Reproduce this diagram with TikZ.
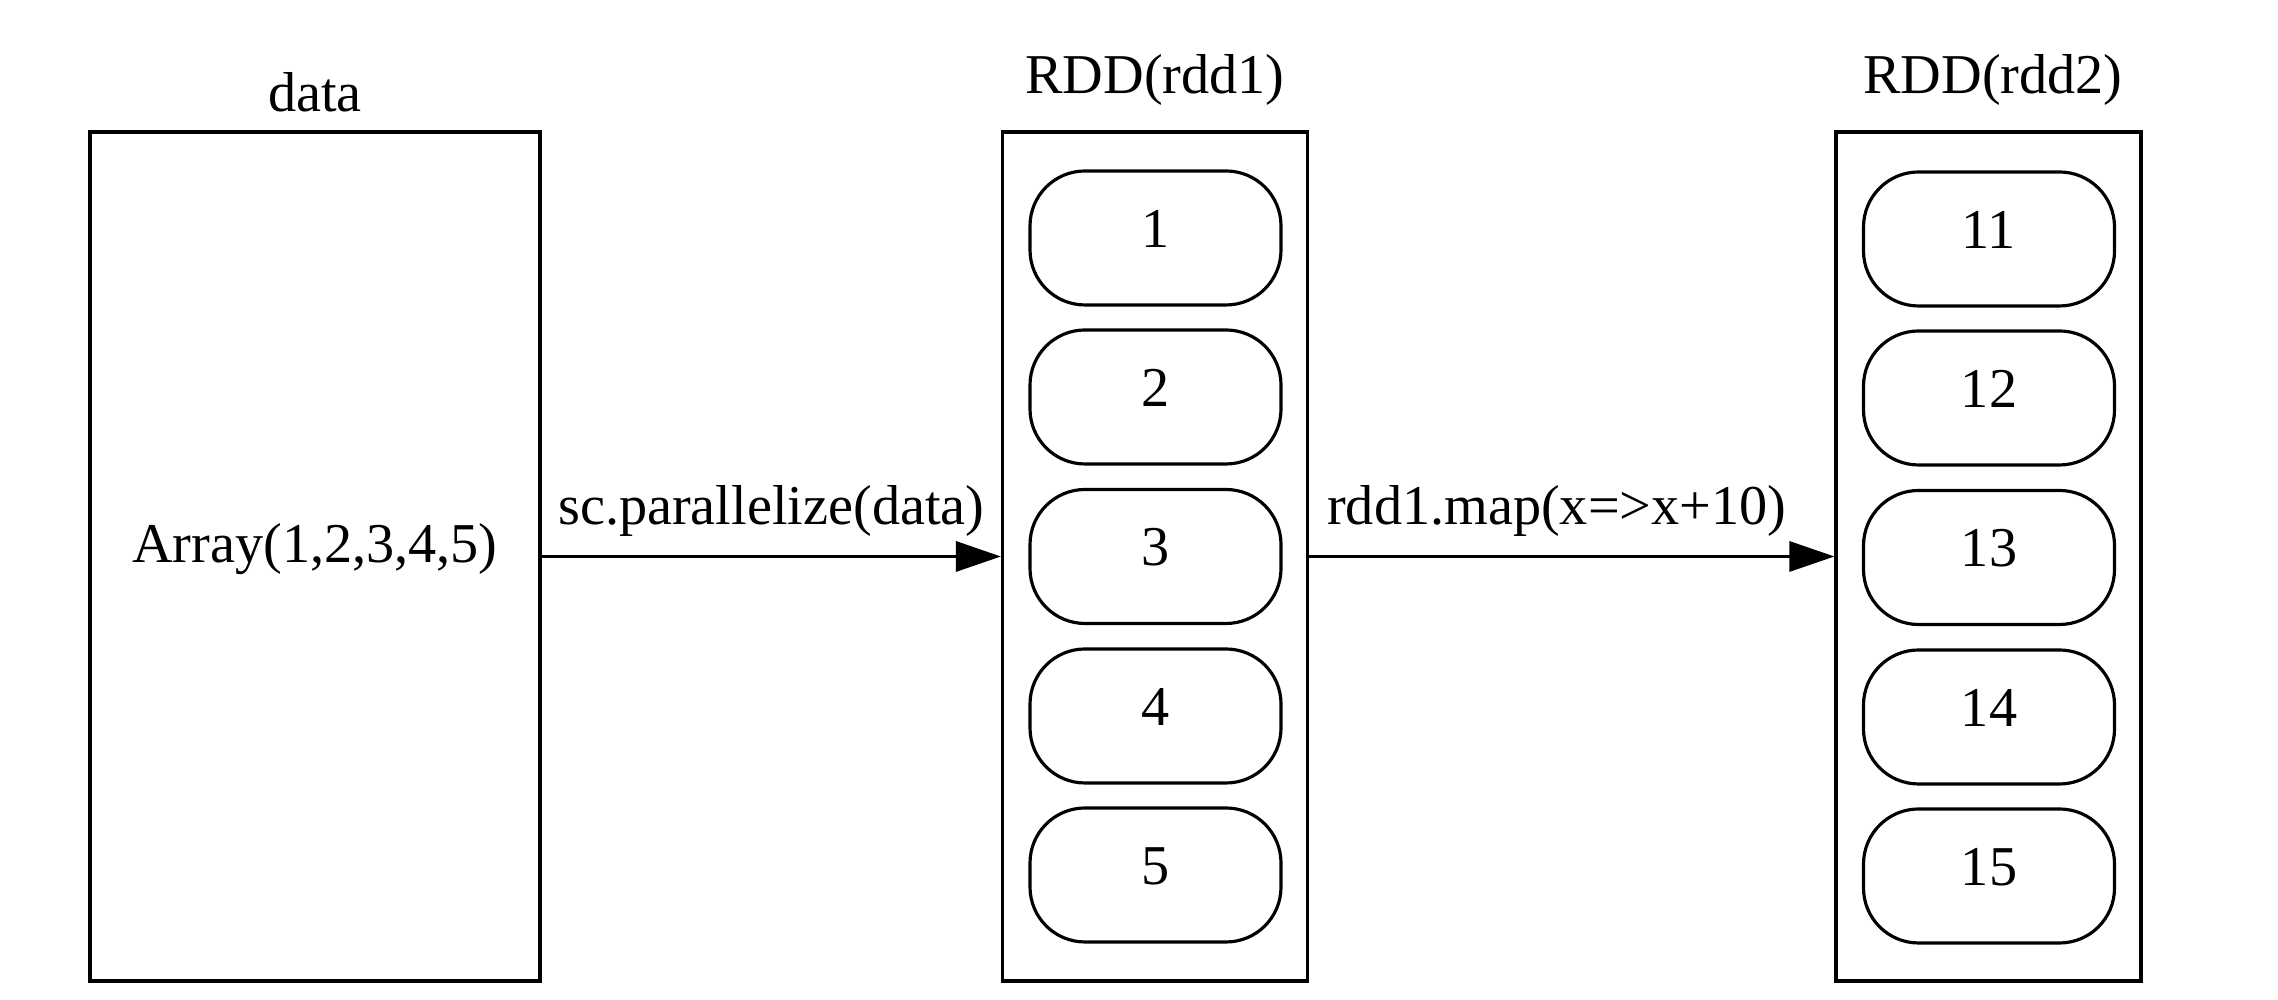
\documentclass[tikz,border=0pt]{standalone}
\usepackage{fontspec}
\setmainfont{Liberation Serif}
\usepackage{tikz}
\usetikzlibrary{arrows.meta}
\tikzstyle{bigbox} = [draw, line width=0.9pt, inner sep=0pt, minimum width=4.5cm, minimum height=8.49cm]
\tikzstyle{rddbox} = [draw, line width=0.9pt, inner sep=0pt, minimum width=3.05cm, minimum height=8.49cm]
\tikzstyle{item} = [draw, line width=0.9pt, rounded corners=0.55cm, minimum width=2.51cm, minimum height=1.34cm, text depth=0.52em]
\tikzstyle{line} = [draw, line width=0.9pt, -{Triangle[length=0.45cm,width=0.3cm]}]

\begin{document}
\begin{tikzpicture}[font=\fontsize{16}{19}\selectfont]
\useasboundingbox (0,0) rectangle (22.78,10);
\node[bigbox, text depth=0.74em] (data) at (3.15,4.435) {Array(1,2,3,4,5)};
\node[rddbox] (rdd1) at (11.55,4.435) {};
\node[rddbox] (rdd2) at (19.885,4.435) {};
%
\node (datalabel) at (3.15,9.08) {data};
\node (rdd1label) at (11.55,9.2) {RDD(rdd1)};
\node (rdd2label) at (19.93,9.2) {RDD(rdd2)};
%
\node[item] (a1) at (11.555,7.62) {1};
\node[item] (a2) at (11.555,6.03) {2};
\node[item] (a3) at (11.555,4.435) {3};
\node[item] (a4) at (11.555,2.84) {4};
\node[item] (a5) at (11.555,1.25) {5};
%
\node[item] (b1) at (19.89,7.61) {11};
\node[item] (b2) at (19.89,6.02) {12};
\node[item] (b3) at (19.89,4.425) {13};
\node[item] (b4) at (19.89,2.83) {14};
\node[item] (b5) at (19.89,1.24) {15};
%
\path[line] (data.east) -- node[above=2pt] {sc.parallelize(data)} (rdd1.west);
\path[line] (rdd1.east) -- node[above=2pt, xshift=-0.15cm] {rdd1.map(x=>x+10)} (rdd2.west);
\end{tikzpicture}
\end{document}
